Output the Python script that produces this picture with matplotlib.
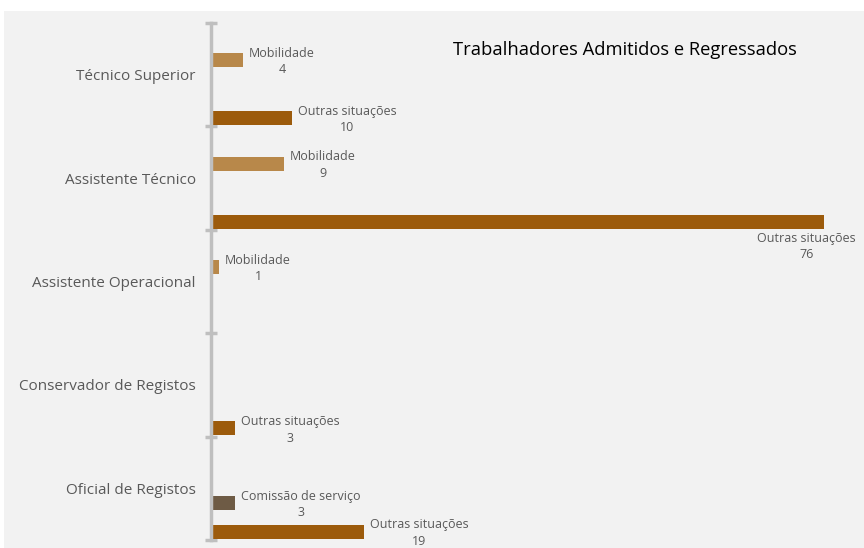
import matplotlib.pyplot as plt
import matplotlib.patches as mpatches
import matplotlib.transforms as mtransforms

# Data
categories = ['Técnico Superior', 'Assistente Técnico', 'Assistente Operacional',
              'Conservador de Registos', 'Oficial de Registos']
series_names = ['', 'Mobilidade', 'Comissão de serviço', 'Outras situações']
mobilidade = [4, 9, 1, None, None]
comissao = [None, None, None, None, 3]
outras = [10, 76, None, 3, 19]
vazio = [None, None, None, None, None]
title = 'Trabalhadores Admitidos e Regressados'

series_values = [vazio, mobilidade, comissao, outras]
series_colors = ['#b8884a', '#b8884a', '#6e5b45', '#9c5b0c']

plt.rcParams['font.family'] = ['Open Sans', 'DejaVu Sans']

W, H = 864, 548
fig = plt.figure(figsize=(W / 100, H / 100), dpi=100)
fig.patch.set_facecolor('white')
fig.patches.append(mpatches.Rectangle((4 / W, 0), 1 - 4 / W, 1 - 11 / H,
                                      transform=fig.transFigure,
                                      facecolor='#f2f2f2', edgecolor='none', zorder=-5))

ax = fig.add_axes([211 / W, 1 - 540 / H, (W - 211) / W, (540 - 23) / H])
ax.set_facecolor('none')
ax.set_xlim(0, 81)
ax.set_ylim(len(categories), 0)

bar_h = 0.135
slot = 0.28
label_color = '#595959'
off = mtransforms.offset_copy

for j, (name, vals, col) in enumerate(zip(series_names, series_values, series_colors)):
    for i, v in enumerate(vals):
        if v is None:
            continue
        yc = i + 0.5 + (j - 1.5) * slot
        ax.barh(yc, v, height=bar_h, color=col, zorder=2)
        txt = f'{name}\n{v}'
        if v > 60:
            # label does not fit on the right: put it under the bar end
            tr = mtransforms.blended_transform_factory(ax.transAxes, ax.transData)
            ax.text(1.0, yc + bar_h / 2, txt,
                    transform=off(tr, fig=fig, x=-8, y=-3, units='dots'),
                    ha='right', va='top', multialignment='center',
                    fontsize=9, color=label_color, linespacing=1.35)
        else:
            ax.text(v, yc, txt,
                    transform=off(ax.transData, fig=fig, x=6, y=-1.5, units='dots'),
                    ha='left', va='center', multialignment='center',
                    fontsize=9, color=label_color, linespacing=1.35)

# axis styling
for s in ['top', 'right', 'bottom']:
    ax.spines[s].set_visible(False)
ax.spines['left'].set_color('#bfbfbf')
ax.spines['left'].set_linewidth(2.5)
ax.set_xticks([])
ax.set_yticks(range(len(categories) + 1))
ax.set_yticklabels([])
ax.tick_params(axis='y', which='major', direction='inout', length=8, width=2.5,
               color='#bfbfbf')
ax.set_yticks([i + 0.5 for i in range(len(categories))], minor=True)
ax.set_yticklabels(categories, minor=True, fontsize=11, color=label_color)
ax.tick_params(axis='y', which='minor', length=0, pad=11)

fig.text(453 / W, 1 - 50 / H, title, ha='left', va='center', fontsize=13.2, color='black')

fig.savefig('out.png', dpi=100, facecolor='white')
